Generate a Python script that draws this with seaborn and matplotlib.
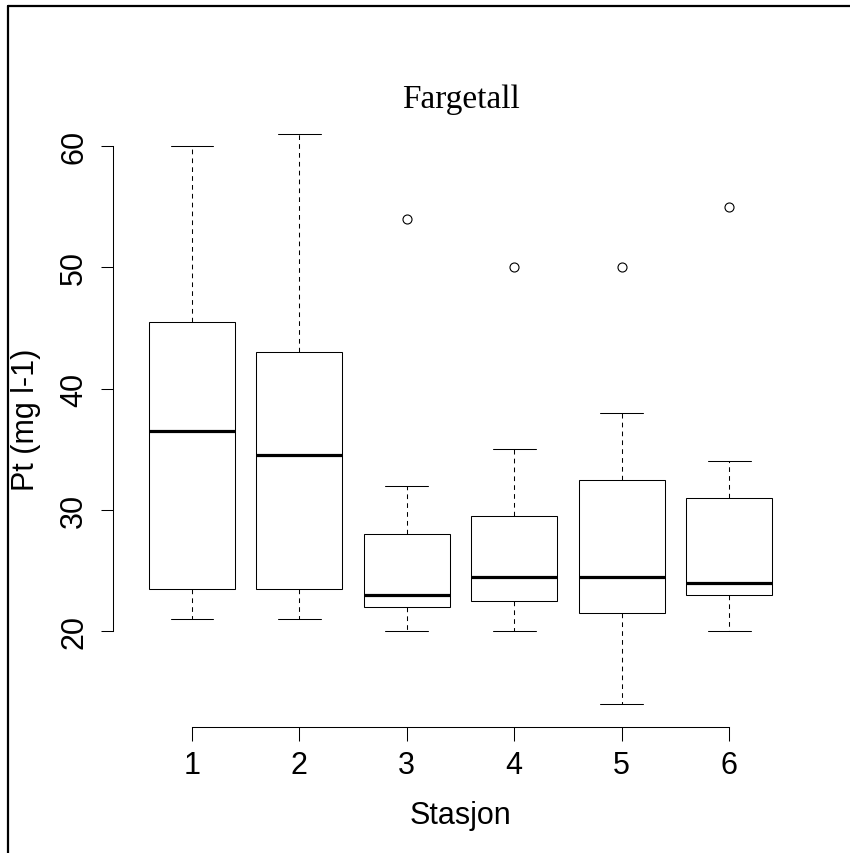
import pandas as pd
import numpy as np
import matplotlib
matplotlib.use("Agg")
import matplotlib.pyplot as plt
import seaborn as sns
from matplotlib.lines import Line2D

# values per station (chosen so quartiles / whiskers / outliers match the figure)
stations = ["1", "2", "3", "4", "5", "6"]
stasjon_1 = [21, 22, 23.5, 30, 36.5, 40, 45.5, 50, 60]
stasjon_2 = [21, 22, 23.5, 30, 34.5, 40, 43, 50, 61]
stasjon_3 = [20, 21, 22, 22.5, 23, 25, 28, 32, 54]
stasjon_4 = [20, 21, 22.5, 23, 24.5, 27, 29.5, 35, 50]
stasjon_5 = [14, 18, 21.5, 23, 24.5, 28, 32.5, 38, 50]
stasjon_6 = [20, 22, 23, 23.5, 24, 27, 31, 34, 55]
y_ticks = [20, 30, 40, 50, 60]

values = [stasjon_1, stasjon_2, stasjon_3, stasjon_4, stasjon_5, stasjon_6]
data = pd.DataFrame({
    "Stasjon": np.repeat(stations, [len(v) for v in values]),
    "Pt": np.concatenate(values),
})

sns.set_style("ticks")
plt.rcParams["font.family"] = ["Liberation Sans", "DejaVu Sans"]
plt.rcParams["text.color"] = "black"
plt.rcParams["axes.labelcolor"] = "black"
plt.rcParams["xtick.color"] = "black"
plt.rcParams["ytick.color"] = "black"
plt.rcParams["axes.edgecolor"] = "black"

fig = plt.figure(figsize=(8.5, 8.54), dpi=100)
W, H = 850, 854
ax = fig.add_axes([112.5 / W, 1 - 728 / H, 696 / W, 616 / H])

lw = 0.75
sns.boxplot(data=data, x="Stasjon", y="Pt", order=stations, ax=ax,
            color="white", linecolor="black", linewidth=lw, width=0.8,
            whis=1.5, fliersize=6.5,
            medianprops={"linewidth": 2.3, "color": "black"},
            whiskerprops={"linestyle": (0, (4.5, 4)), "linewidth": lw, "color": "black"},
            capprops={"linewidth": lw, "color": "black"},
            flierprops={"marker": "o", "markerfacecolor": "none",
                        "markeredgecolor": "black", "markeredgewidth": 0.8})

ax.set_xlim(-0.74, 5.74)
ax.set_ylim(12.12, 62.88)
ax.set_yticks(y_ticks)
ax.set_yticklabels([str(t) for t in y_ticks])

sns.despine(ax=ax)
ax.spines["left"].set_bounds(20, 60)
ax.spines["bottom"].set_bounds(0, 5)
ax.spines["left"].set_linewidth(lw)
ax.spines["bottom"].set_linewidth(lw)

ax.tick_params(axis="x", length=10, width=lw, pad=6.5, labelsize=22,
               color="black", labelcolor="black")
ax.tick_params(axis="y", length=8.6, width=lw, pad=8.3, labelsize=22,
               labelrotation=90, color="black", labelcolor="black")
for lab in ax.get_yticklabels():
    lab.set_va("center")

ax.set_xlabel("Stasjon", fontsize=22, color="black")
ax.set_ylabel("Pt (mg l-1)", fontsize=22, color="black")
ax.xaxis.set_label_coords(0.5, -0.1185)
ax.yaxis.set_label_coords(-0.1027, 0.5)

ax.text(0.5, (728 - 108) / 616, "Fargetall", transform=ax.transAxes,
        ha="center", va="baseline", fontsize=24, family="Liberation Serif",
        color="black")

# outer frame (top and left edges only visible)
fig.add_artist(Line2D([7.5 / W, 1], [1 - 7 / H, 1 - 7 / H],
                      transform=fig.transFigure, color="black", lw=1.6))
fig.add_artist(Line2D([7.5 / W, 7.5 / W], [0, 1 - 7 / H],
                      transform=fig.transFigure, color="black", lw=1.6))

fig.savefig("out.png", dpi=100, facecolor="white")
